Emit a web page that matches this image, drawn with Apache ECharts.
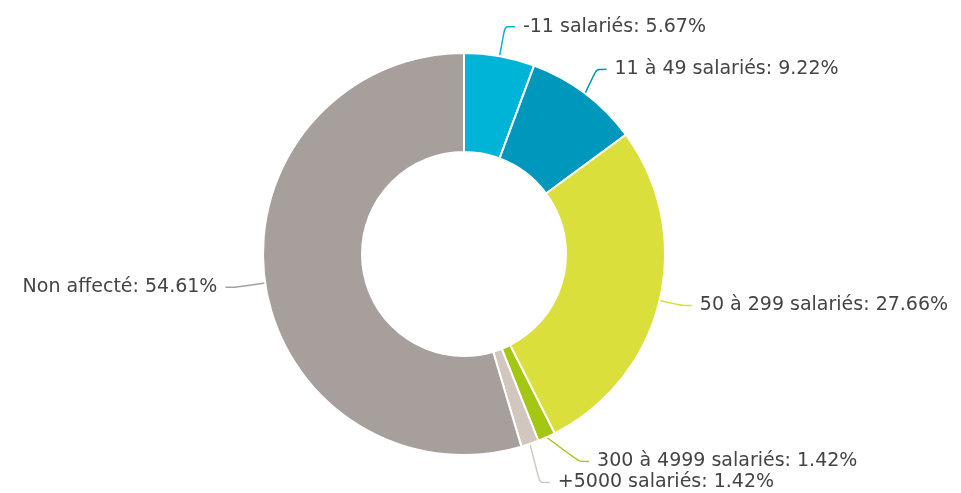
<!DOCTYPE html>
<html>
<head>
<meta charset="utf-8">
<script src="https://cdn.jsdelivr.net/npm/echarts@6/dist/echarts.min.js"></script>
<style>
    html, body { margin: 0; padding: 0; background: #fff; }
    #chart { width: 961px; height: 493px; }
</style>
</head>
<body>
<div id="chart"></div>
<script>
const categories = ['-11 salariés', '11 à 49 salariés', '50 à 299 salariés', '300 à 4999 salariés', '+5000 salariés', 'Non affecté'];
const shares = [5.67, 9.22, 27.66, 1.42, 1.42, 54.61];
const colors = ['#00b4d8', '#0097bc', '#dbdf3b', '#a3c713', '#d1c7be', '#a69f9b'];

const chart = echarts.init(document.getElementById('chart'));

chart.setOption({
    animation: false,
    series: [{
        type: 'pie',
        center: [464, 254],
        radius: [102, 201],
        startAngle: 90,
        clockwise: true,
        itemStyle: {borderColor: '#fff', borderWidth: 2},
        label: {
            formatter: p => `${p.name}: ${p.value.toFixed(2)}%`,
            fontFamily: 'DejaVu Sans',
            fontSize: 19,
            color: '#444',
            distanceToLabelLine: 8
        },
        labelLine: {length: 30, length2: 10, smooth: 0.2, lineStyle: {width: 1.5}},
        data: categories.map((name, i) => ({
            name: name,
            value: shares[i],
            itemStyle: {color: colors[i]}
        }))
    }]
});
</script>
</body>
</html>
